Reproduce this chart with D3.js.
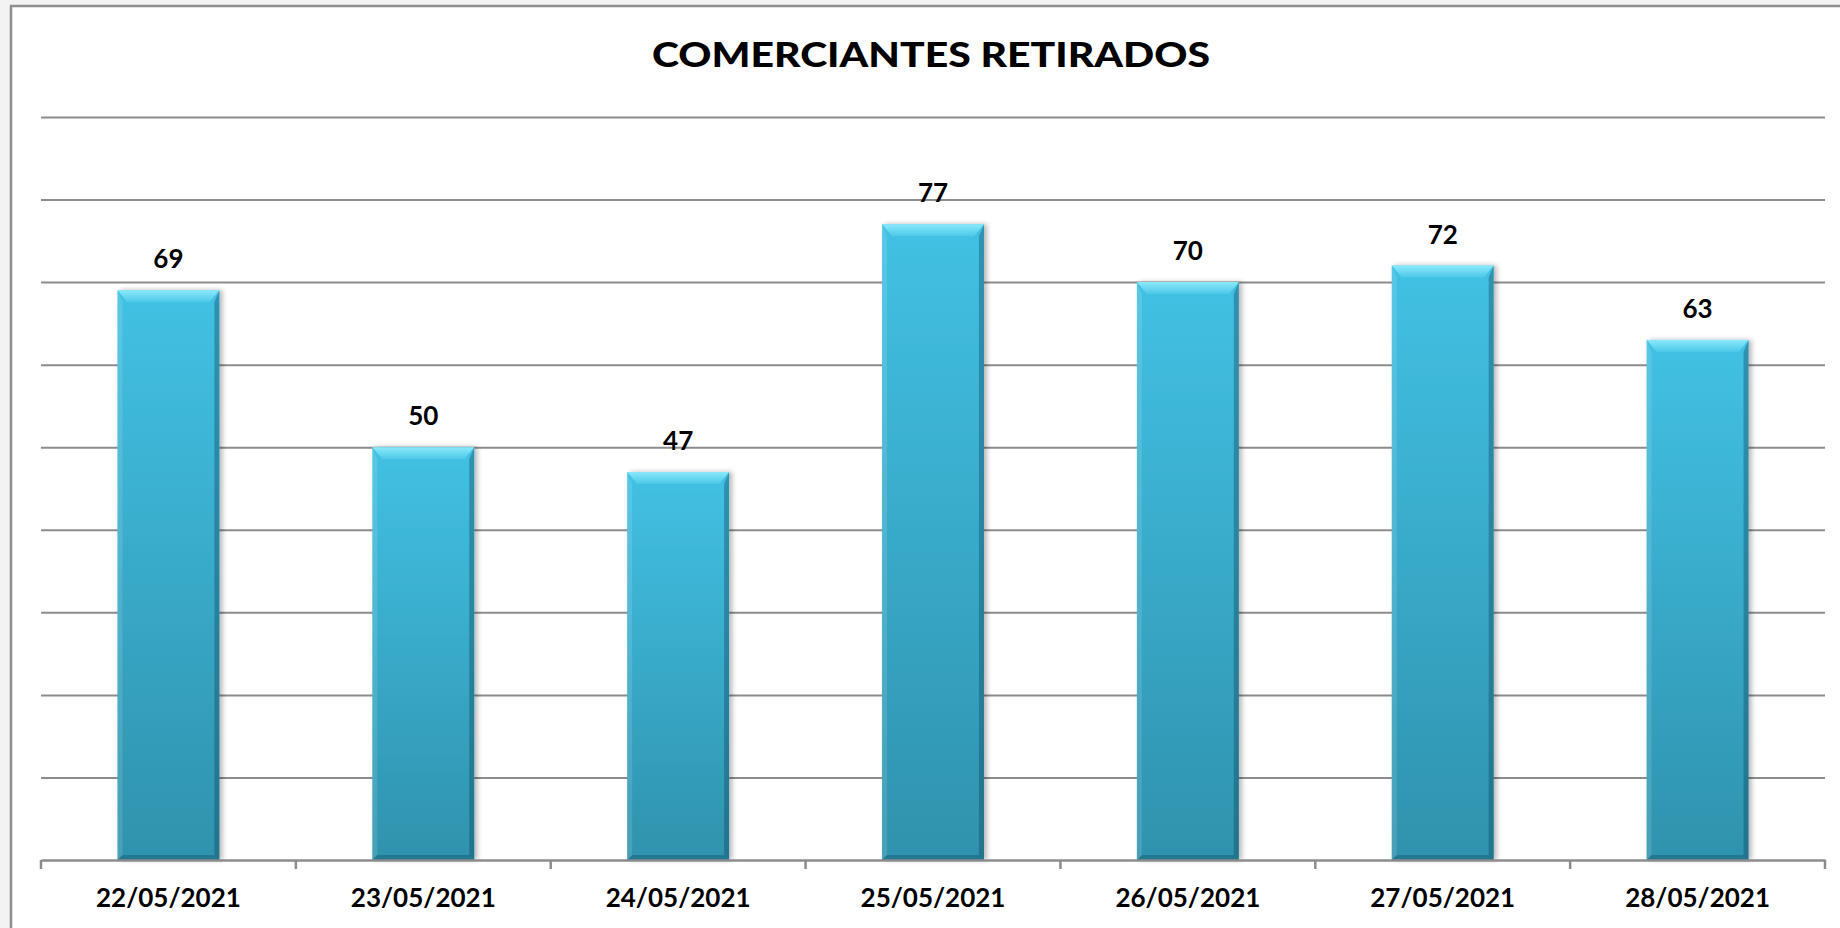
<!DOCTYPE html>
<html>
<head>
<meta charset="utf-8">
<script src="https://cdn.jsdelivr.net/npm/d3@7/dist/d3.min.js"></script>
<style>
  html, body { margin: 0; padding: 0; background: #f3f3f3; }
  svg { display: block; }
</style>
</head>
<body>
<svg id="chart" width="1840" height="928"></svg>
<script>
// Daily count of retired merchants
const categories = ["22/05/2021", "23/05/2021", "24/05/2021", "25/05/2021", "26/05/2021", "27/05/2021", "28/05/2021"];
const values = [69, 50, 47, 77, 70, 72, 63];
const gridValues = [10, 20, 30, 40, 50, 60, 70, 80, 90];
const title = "COMERCIANTES RETIRADOS";

const W = 1840, H = 928;
const plot = { left: 41, right: 1825, top: 117, bottom: 860 };
const FONT = "Lato, 'Open Sans', 'DejaVu Sans', sans-serif";

const svg = d3.select("#chart");
const defs = svg.append("defs");

// vertical body gradient of the bars
const body = defs.append("linearGradient").attr("id", "barBody")
  .attr("x1", 0).attr("y1", 0).attr("x2", 0).attr("y2", 1);
body.append("stop").attr("offset", "0%").attr("stop-color", "#42c1e4");
body.append("stop").attr("offset", "100%").attr("stop-color", "#2f92ad");

const topBevel = defs.append("linearGradient").attr("id", "topBevel")
  .attr("x1", 0).attr("y1", 0).attr("x2", 0).attr("y2", 1);
topBevel.append("stop").attr("offset", "0%").attr("stop-color", "#8ae9fb");
topBevel.append("stop").attr("offset", "100%").attr("stop-color", "#4cc8e8");

const shadow = defs.append("filter").attr("id", "barShadow")
  .attr("x", "-10%").attr("y", "-5%").attr("width", "130%").attr("height", "110%");
shadow.append("feDropShadow").attr("dx", 3).attr("dy", 0).attr("stdDeviation", 2.5)
  .attr("flood-color", "#000").attr("flood-opacity", 0.28);

// chart frame
svg.append("rect").attr("x", 11).attr("y", 6).attr("width", W).attr("height", H)
  .attr("fill", "#ffffff").attr("stroke", "#8f8f8f").attr("stroke-width", 2.5);

const x = d3.scaleBand().domain(categories).range([plot.left, plot.right])
  .paddingInner(0.6).paddingOuter(0.3);
const y = d3.scaleLinear().domain([0, 90]).range([plot.bottom, plot.top]);

// horizontal gridlines
const grid = svg.append("g").attr("transform", `translate(${plot.left},0)`)
  .call(d3.axisLeft(y).tickValues(gridValues).tickSize(-(plot.right - plot.left)).tickFormat(""));
grid.select(".domain").remove();
grid.selectAll(".tick line").attr("stroke", "#8c8c8c").attr("stroke-width", 2);

// bars with a bevelled face
const bars = svg.append("g").selectAll("g.bar").data(values).join("g")
  .attr("class", "bar").attr("filter", "url(#barShadow)");

bars.each(function (v, i) {
  const g = d3.select(this);
  const x0 = x(categories[i]), w = x.bandwidth();
  const y0 = y(v), y1 = y(0), h = y1 - y0;
  const bx = 10, by = 12, bs = 5;
  g.append("rect").attr("x", x0).attr("y", y0).attr("width", w).attr("height", h)
    .attr("fill", "url(#barBody)");
  // left edge
  g.append("polygon")
    .attr("points", [[x0, y0], [x0 + bs, y0 + by], [x0 + bs, y1 - bs], [x0, y1]].join(" "))
    .attr("fill", "#ffffff").attr("opacity", 0.12);
  // right edge
  g.append("polygon")
    .attr("points", [[x0 + w, y0], [x0 + w - bs, y0 + by], [x0 + w - bs, y1 - bs], [x0 + w, y1]].join(" "))
    .attr("fill", "#0b3c4f").attr("opacity", 0.35);
  // bottom edge
  g.append("polygon")
    .attr("points", [[x0, y1], [x0 + bs, y1 - bs], [x0 + w - bs, y1 - bs], [x0 + w, y1]].join(" "))
    .attr("fill", "#0b3c4f").attr("opacity", 0.3);
  // top bevel
  g.append("polygon")
    .attr("points", [[x0, y0], [x0 + w, y0], [x0 + w - bx, y0 + by], [x0 + bx, y0 + by]].join(" "))
    .attr("fill", "url(#topBevel)");
});

// value labels
svg.append("g").selectAll("text").data(values).join("text")
  .attr("x", (d, i) => x(categories[i]) + x.bandwidth() / 2)
  .attr("y", d => y(d) - 22)
  .attr("text-anchor", "middle")
  .attr("font-family", FONT).attr("font-weight", 700).attr("font-size", 26)
  .attr("fill", "#000").text(d => d);

// category axis
const xAxis = svg.append("g").attr("transform", `translate(0,${plot.bottom})`)
  .call(d3.axisBottom(x).tickSize(0).tickPadding(0));
xAxis.select(".domain").attr("stroke", "#8c8c8c").attr("stroke-width", 2.5);
xAxis.selectAll(".tick text")
  .attr("y", 47).attr("dy", 0)
  .attr("font-family", FONT).attr("font-weight", 700).attr("font-size", 26)
  .attr("fill", "#000");

// boundary tick marks between categories
const bounds = d3.range(categories.length + 1).map(i => plot.left + i * x.step());
svg.append("g").selectAll("line").data(bounds).join("line")
  .attr("x1", d => d).attr("x2", d => d)
  .attr("y1", plot.bottom).attr("y2", plot.bottom + 9)
  .attr("stroke", "#8c8c8c").attr("stroke-width", 2.5);

// title
svg.append("text").attr("x", 931).attr("y", 67)
  .attr("text-anchor", "middle")
  .attr("font-family", FONT).attr("font-weight", 900).attr("font-size", 35)
  .attr("textLength", 558).attr("lengthAdjust", "spacingAndGlyphs")
  .attr("fill", "#000").text(title);
</script>
</body>
</html>
